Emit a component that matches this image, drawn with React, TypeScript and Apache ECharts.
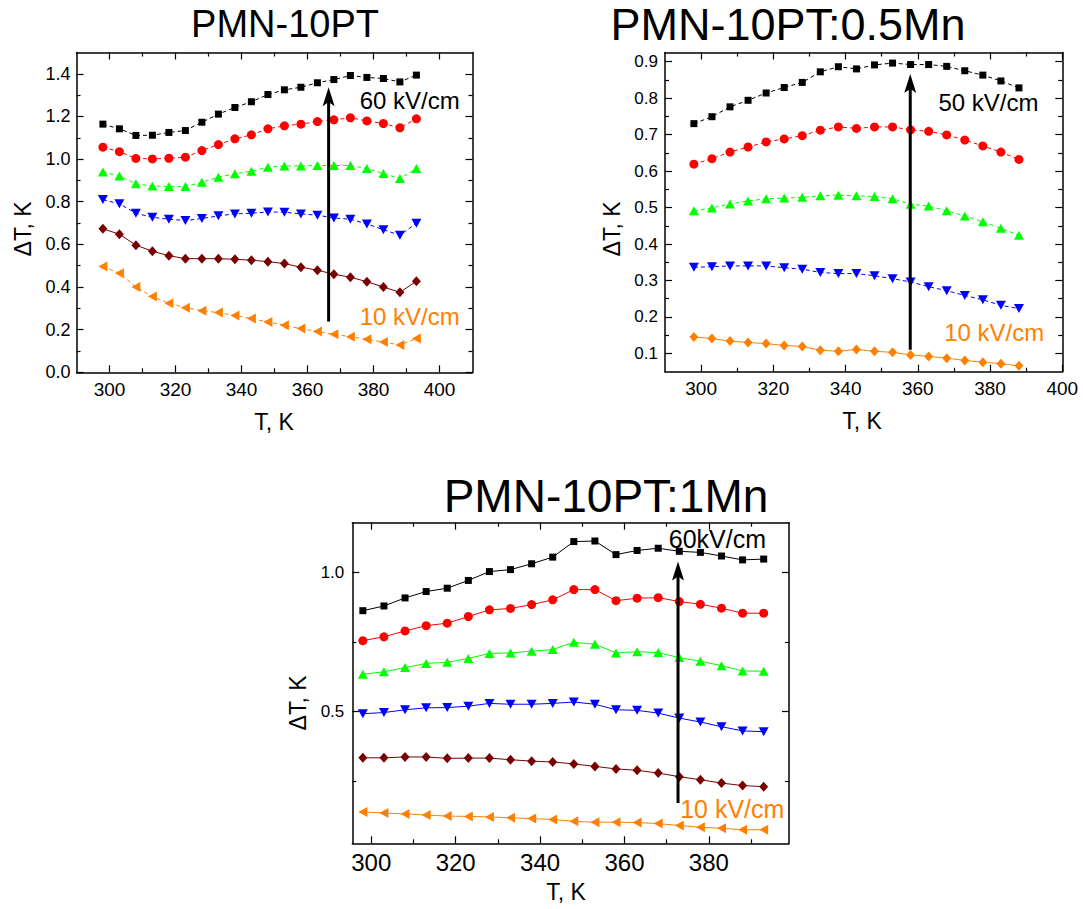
import React, { useEffect, useRef } from "react";
import * as echarts from "echarts";

// ---- temperatures (K) ----
const tempsPure = [298, 303, 308, 313, 318, 323, 328, 333, 338, 343, 348, 353, 358, 363, 368, 373, 378, 383, 388, 393];
const tempsMn05 = [298, 303, 308, 313, 318, 323, 328, 333, 338, 343, 348, 353, 358, 363, 368, 373, 378, 383, 388];
const tempsMn1 = [298, 303, 308, 313, 318, 323, 328, 333, 338, 343, 348, 353, 358, 363, 368, 373, 378, 383, 388, 393];

// ---- PMN-10PT, ΔT (K) ----
const pure60 = [1.164, 1.142, 1.111, 1.112, 1.125, 1.134, 1.173, 1.211, 1.242, 1.269, 1.303, 1.325, 1.337, 1.358, 1.373, 1.392, 1.383, 1.378, 1.362, 1.394];
const pure50 = [1.056, 1.035, 1.003, 1.001, 1.004, 1.009, 1.04, 1.068, 1.095, 1.114, 1.142, 1.156, 1.164, 1.176, 1.184, 1.194, 1.179, 1.167, 1.147, 1.189];
const pure40 = [0.94, 0.921, 0.884, 0.874, 0.871, 0.871, 0.892, 0.915, 0.931, 0.943, 0.962, 0.968, 0.968, 0.97, 0.97, 0.97, 0.956, 0.932, 0.909, 0.956];
const pure30 = [0.81, 0.79, 0.746, 0.727, 0.718, 0.712, 0.721, 0.734, 0.743, 0.746, 0.752, 0.751, 0.743, 0.737, 0.724, 0.718, 0.696, 0.669, 0.643, 0.699];
const pure20 = [0.673, 0.648, 0.596, 0.568, 0.547, 0.533, 0.533, 0.533, 0.53, 0.526, 0.519, 0.51, 0.493, 0.479, 0.46, 0.446, 0.425, 0.4, 0.375, 0.427];
const pure10 = [0.496, 0.465, 0.4, 0.355, 0.324, 0.303, 0.289, 0.28, 0.266, 0.252, 0.236, 0.221, 0.205, 0.191, 0.178, 0.167, 0.155, 0.142, 0.128, 0.158];

// ---- PMN-10PT:0.5Mn, ΔT (K) ----
const mn05_50 = [0.73, 0.749, 0.776, 0.794, 0.814, 0.829, 0.843, 0.872, 0.886, 0.88, 0.891, 0.896, 0.892, 0.892, 0.887, 0.875, 0.863, 0.847, 0.828];
const mn05_40 = [0.619, 0.634, 0.652, 0.666, 0.68, 0.688, 0.697, 0.712, 0.721, 0.717, 0.721, 0.721, 0.713, 0.709, 0.699, 0.685, 0.669, 0.652, 0.632];
const mn05_30 = [0.491, 0.499, 0.51, 0.518, 0.524, 0.526, 0.528, 0.532, 0.534, 0.532, 0.53, 0.524, 0.509, 0.504, 0.491, 0.477, 0.461, 0.443, 0.424];
const mn05_20 = [0.336, 0.338, 0.34, 0.34, 0.34, 0.335, 0.331, 0.322, 0.319, 0.319, 0.313, 0.305, 0.296, 0.283, 0.272, 0.259, 0.247, 0.232, 0.223];
const mn05_10 = [0.145, 0.141, 0.134, 0.13, 0.127, 0.122, 0.119, 0.109, 0.106, 0.111, 0.106, 0.103, 0.096, 0.092, 0.087, 0.081, 0.076, 0.072, 0.066];

// ---- PMN-10PT:1Mn, ΔT (K) ----
const mn1_60 = [0.863, 0.88, 0.909, 0.932, 0.944, 0.972, 1.004, 1.011, 1.032, 1.056, 1.112, 1.114, 1.065, 1.08, 1.088, 1.077, 1.073, 1.06, 1.046, 1.049];
const mn1_50 = [0.755, 0.769, 0.79, 0.809, 0.818, 0.842, 0.866, 0.871, 0.885, 0.902, 0.939, 0.939, 0.899, 0.908, 0.91, 0.896, 0.886, 0.872, 0.854, 0.854];
const mn1_40 = [0.634, 0.643, 0.658, 0.673, 0.677, 0.691, 0.709, 0.711, 0.717, 0.723, 0.749, 0.742, 0.711, 0.715, 0.712, 0.694, 0.681, 0.665, 0.646, 0.645];
const mn1_30 = [0.492, 0.496, 0.506, 0.513, 0.514, 0.519, 0.529, 0.526, 0.526, 0.529, 0.534, 0.526, 0.506, 0.504, 0.494, 0.476, 0.462, 0.445, 0.43, 0.427];
const mn1_20 = [0.333, 0.333, 0.336, 0.336, 0.331, 0.332, 0.332, 0.326, 0.321, 0.318, 0.311, 0.302, 0.293, 0.288, 0.278, 0.265, 0.254, 0.242, 0.233, 0.229];
const mn1_10 = [0.138, 0.134, 0.131, 0.127, 0.123, 0.122, 0.12, 0.117, 0.114, 0.111, 0.104, 0.101, 0.101, 0.1, 0.096, 0.089, 0.083, 0.079, 0.074, 0.074];

// ---- tick values ----
const xMajorA = [300, 320, 340, 360, 380, 400];
const xMinorA = [310, 330, 350, 370, 390];
const yMajorA = [0, 0.2, 0.4, 0.6, 0.8, 1.0, 1.2, 1.4];
const yMinorA = [0.1, 0.3, 0.5, 0.7, 0.9, 1.1, 1.3];

const xMajorB = [300, 320, 340, 360, 380, 400];
const xMinorB = [310, 330, 350, 370, 390];
const yMajorB = [0.1, 0.2, 0.3, 0.4, 0.5, 0.6, 0.7, 0.8, 0.9];
const yMinorB = [0.15, 0.25, 0.35, 0.45, 0.55, 0.65, 0.75, 0.85];

const xMajorC = [300, 320, 340, 360, 380];
const xMinorC = [310, 330, 350, 370, 390];
const yMajorC = [0.5, 1.0];
const yMinorC = [0.25, 0.75];

const FONT = "'Liberation Sans', Arial, Helvetica, sans-serif";
const BLACK = "#000000";
const RED = "#ff0000";
const GREEN = "#00ff00";
const BLUE = "#0000ff";
const BROWN = "#7a0000";
const ORANGE = "#ff8000";

type SeriesSpec = {
  name: string;
  values: number[];
  color: string;
  symbol: string;
  size: number | number[];
  rotate: number;
  dashed: boolean;
};

type PanelSpec = {
  title: string;
  titleSize: number;
  titlePos: [number, number];
  yNamePos: [number, number];
  xNamePos: [number, number];
  grid: { left: number; top: number; width: number; height: number };
  xRange: [number, number];
  yRange: [number, number];
  xMajor: number[];
  xMinor: number[];
  yMajor: number[];
  yMinor: number[];
  xLabelSize: number;
  yLabelSize: number;
  xMargin: number;
  yMargin: number;
  temps: number[];
  series: SeriesSpec[];
  arrow: { x: number; from: number; to: number };
  notes: { text: string; x: number; y: number; color: string; size: number }[];
};

const sq = (name: string, values: number[], dashed: boolean): SeriesSpec => ({ name, values, color: BLACK, symbol: "rect", size: 7, rotate: 0, dashed });
const ci = (name: string, values: number[], dashed: boolean): SeriesSpec => ({ name, values, color: RED, symbol: "circle", size: 9, rotate: 0, dashed });
const up = (name: string, values: number[], dashed: boolean): SeriesSpec => ({ name, values, color: GREEN, symbol: "triangle", size: [10, 9], rotate: 0, dashed });
const dn = (name: string, values: number[], dashed: boolean): SeriesSpec => ({ name, values, color: BLUE, symbol: "triangle", size: [10, 9], rotate: 180, dashed });
const dia = (name: string, values: number[], color: string, dashed: boolean): SeriesSpec => ({ name, values, color, symbol: "diamond", size: [9, 10], rotate: 0, dashed });
const lt = (name: string, values: number[], dashed: boolean): SeriesSpec => ({ name, values, color: ORANGE, symbol: "triangle", size: [10, 9], rotate: 90, dashed });

const panels: PanelSpec[] = [
  {
    title: "PMN-10PT",
    titleSize: 38,
    titlePos: [285, 24],
    yNamePos: [23, 229],
    xNamePos: [274, 422],
    grid: { left: 76.5, top: 52.5, width: 396, height: 319.8 },
    xRange: [290, 410],
    yRange: [0, 1.5],
    xMajor: xMajorA,
    xMinor: xMinorA,
    yMajor: yMajorA,
    yMinor: yMinorA,
    xLabelSize: 19,
    yLabelSize: 18,
    xMargin: 8,
    yMargin: 6,
    temps: tempsPure,
    series: [
      sq("60 kV/cm", pure60, true),
      ci("50 kV/cm", pure50, true),
      up("40 kV/cm", pure40, true),
      dn("30 kV/cm", pure30, true),
      dia("20 kV/cm", pure20, BROWN, false),
      lt("10 kV/cm", pure10, true),
    ],
    arrow: { x: 366.4, from: 0.238, to: 1.337 },
    notes: [
      { text: "60 kV/cm", x: 375.8, y: 1.273, color: BLACK, size: 24 },
      { text: "10 kV/cm", x: 375.8, y: 0.262, color: ORANGE, size: 24 },
    ],
  },
  {
    title: "PMN-10PT:0.5Mn",
    titleSize: 45,
    titlePos: [788, 24],
    yNamePos: [612, 229],
    xNamePos: [862, 421],
    grid: { left: 665, top: 52.5, width: 397.3, height: 319.2 },
    xRange: [290, 400],
    yRange: [0.05, 0.925],
    xMajor: xMajorB,
    xMinor: xMinorB,
    yMajor: yMajorB,
    yMinor: yMinorB,
    xLabelSize: 19,
    yLabelSize: 17,
    xMargin: 7,
    yMargin: 7,
    temps: tempsMn05,
    series: [
      sq("50 kV/cm", mn05_50, true),
      ci("40 kV/cm", mn05_40, true),
      up("30 kV/cm", mn05_30, true),
      dn("20 kV/cm", mn05_20, true),
      dia("10 kV/cm", mn05_10, ORANGE, false),
    ],
    arrow: { x: 357.9, from: 0.11, to: 0.866 },
    notes: [
      { text: "50 kV/cm", x: 365.7, y: 0.789, color: BLACK, size: 24 },
      { text: "10 kV/cm", x: 367.3, y: 0.157, color: ORANGE, size: 24 },
    ],
  },
  {
    title: "PMN-10PT:1Mn",
    titleSize: 46,
    titlePos: [606, 496],
    yNamePos: [298, 703],
    xNamePos: [566, 892],
    grid: { left: 352.3, top: 522.7, width: 436.7, height: 320.6 },
    xRange: [295.5, 399],
    yRange: [0.025, 1.18],
    xMajor: xMajorC,
    xMinor: xMinorC,
    yMajor: yMajorC,
    yMinor: yMinorC,
    xLabelSize: 24,
    yLabelSize: 17,
    xMargin: 7,
    yMargin: 8,
    temps: tempsMn1,
    series: [
      sq("60 kV/cm", mn1_60, false),
      ci("50 kV/cm", mn1_50, false),
      up("40 kV/cm", mn1_40, false),
      dn("30 kV/cm", mn1_30, false),
      dia("20 kV/cm", mn1_20, BROWN, false),
      lt("10 kV/cm", mn1_10, false),
    ],
    arrow: { x: 372.7, from: 0.17, to: 1.04 },
    notes: [
      { text: "60kV/cm", x: 370.5, y: 1.121, color: BLACK, size: 25 },
      { text: "10 kV/cm", x: 373.2, y: 0.149, color: ORANGE, size: 25 },
    ],
  },
];

const fmt1 = (v: number) => v.toFixed(1);
const fmt0 = (v: number) => String(Math.round(v));

function axisSet(
  dim: "x" | "y",
  g: number,
  range: [number, number],
  major: number[],
  minor: number[],
  labelSize: number,
  margin: number
) {
  const sides = dim === "x" ? ["bottom", "top"] : ["left", "right"];
  const list: any[] = [];
  sides.forEach((side, si) => {
    [true, false].forEach((isMajor) => {
      list.push({
        type: "value",
        gridIndex: g,
        position: side,
        min: range[0],
        max: range[1],
        silent: true,
        axisLine: {
          show: isMajor,
          onZero: false,
          lineStyle: { color: BLACK, width: 1.5 },
        },
        axisTick: {
          show: true,
          inside: true,
          length: isMajor ? 7 : 4,
          customValues: isMajor ? major : minor,
          lineStyle: { color: BLACK, width: 1.2 },
        },
        axisLabel: {
          show: isMajor && si === 0,
          customValues: major,
          margin,
          fontSize: labelSize,
          fontFamily: FONT,
          color: BLACK,
          formatter: dim === "x" ? fmt0 : fmt1,
        },
        splitLine: { show: false },
        minorTick: { show: false },
      });
    });
  });
  return list;
}

export default function App() {
  const ref = useRef<HTMLDivElement>(null);

  useEffect(() => {
    if (!ref.current) return;
    const chart = echarts.init(ref.current, null, { renderer: "svg" });

    const grids: any[] = [];
    const xAxes: any[] = [];
    const yAxes: any[] = [];
    const series: any[] = [];
    const staticText: any[] = [];

    panels.forEach((p, g) => {
      grids.push({ ...p.grid, containLabel: false });
      xAxes.push(...axisSet("x", g, p.xRange, p.xMajor, p.xMinor, p.xLabelSize, p.xMargin));
      yAxes.push(...axisSet("y", g, p.yRange, p.yMajor, p.yMinor, p.yLabelSize, p.yMargin));
      p.series.forEach((s) => {
        series.push({
          type: "line",
          name: s.name,
          xAxisIndex: g * 4,
          yAxisIndex: g * 4,
          data: p.temps.map((t, i) => [t, s.values[i]]),
          symbol: s.symbol,
          symbolSize: s.size,
          symbolRotate: s.rotate,
          showAllSymbol: true,
          itemStyle: { color: s.color, borderWidth: 0 },
          lineStyle: { color: s.color, width: 1, type: s.dashed ? [4, 3] : "solid" },
          emphasis: { disabled: true },
          silent: true,
          z: 3,
        });
      });

      staticText.push({
        type: "text",
        x: p.titlePos[0],
        y: p.titlePos[1],
        style: { text: p.title, fill: BLACK, font: `${p.titleSize}px ${FONT}`, align: "center", verticalAlign: "middle" },
      });
      staticText.push({
        type: "text",
        x: p.xNamePos[0],
        y: p.xNamePos[1],
        style: { text: "T, K", fill: BLACK, font: `23px ${FONT}`, align: "center", verticalAlign: "middle" },
      });
      staticText.push({
        type: "text",
        x: p.yNamePos[0],
        y: p.yNamePos[1],
        rotation: Math.PI / 2,
        style: { text: "ΔT, K", fill: BLACK, font: `23px ${FONT}`, align: "center", verticalAlign: "middle" },
      });
    });

    chart.setOption({
      animation: false,
      backgroundColor: "#ffffff",
      grid: grids,
      xAxis: xAxes,
      yAxis: yAxes,
      series,
      graphic: staticText,
    });

    // Field arrows and their kV/cm notes, placed in data coordinates
    const overlay: any[] = [];
    panels.forEach((p, g) => {
      const finder = { xAxisIndex: g * 4, yAxisIndex: g * 4 };
      const base = chart.convertToPixel(finder, [p.arrow.x, p.arrow.from]) as number[];
      const tip = chart.convertToPixel(finder, [p.arrow.x, p.arrow.to]) as number[];
      const headH = 19;
      const headW = 6;
      overlay.push({
        type: "line",
        shape: { x1: base[0], y1: base[1], x2: tip[0], y2: tip[1] + headH * 0.7 },
        style: { stroke: BLACK, lineWidth: 3 },
        z: 10,
      });
      overlay.push({
        type: "polygon",
        shape: {
          points: [
            [tip[0], tip[1]],
            [tip[0] + headW, tip[1] + headH],
            [tip[0], tip[1] + headH * 0.78],
            [tip[0] - headW, tip[1] + headH],
          ],
        },
        style: { fill: BLACK },
        z: 10,
      });
      p.notes.forEach((n) => {
        const pos = chart.convertToPixel(finder, [n.x, n.y]) as number[];
        overlay.push({
          type: "text",
          x: pos[0],
          y: pos[1],
          z: 11,
          style: { text: n.text, fill: n.color, font: `${n.size}px ${FONT}`, align: "left", verticalAlign: "middle" },
        });
      });
    });

    chart.setOption({ graphic: [...staticText, ...overlay] });

    return () => {
      chart.dispose();
    };
  }, []);

  return (
    <div
      ref={ref}
      style={{ position: "fixed", left: 0, top: 0, width: 1083, height: 909, background: "#ffffff" }}
    />
  );
}
